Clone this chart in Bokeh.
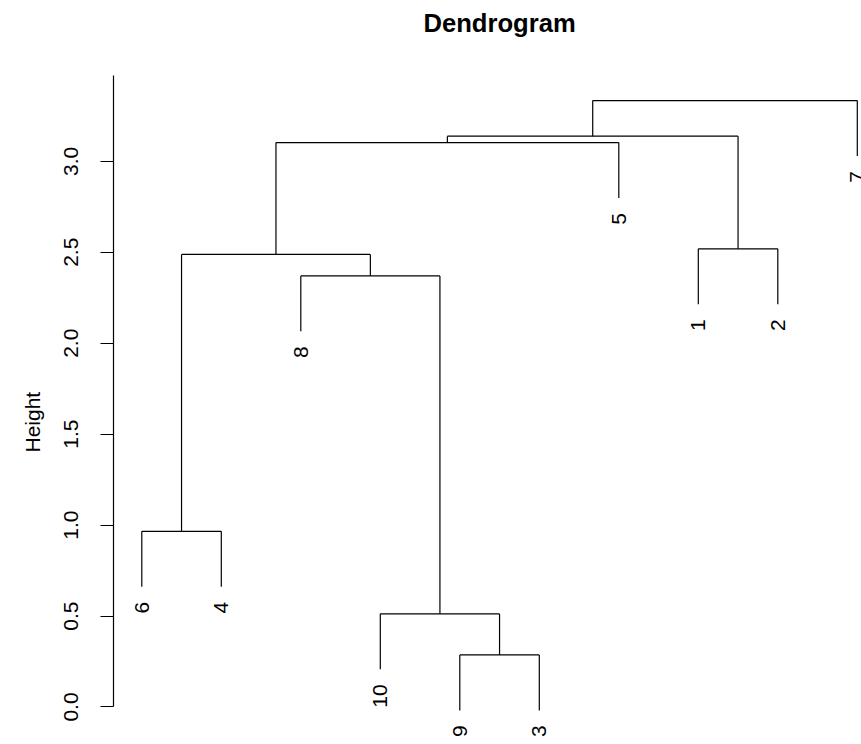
import math
from bokeh.plotting import figure
from bokeh.models import Range1d, FixedTicker, ColumnDataSource, Label, Title
from bokeh.core.properties import value
from bokeh.embed import file_html
from bokeh.resources import INLINE

# ---- data (hclust-style merge table, R convention: negative = leaf id) ----
leaf_labels = ["1", "2", "3", "4", "5", "6", "7", "8", "9", "10"]
leaf_order = [6, 4, 8, 10, 9, 3, 5, 1, 2, 7]
merge_left = [-9, -10, -6, -8, 3, -1, 5, 7, 8]
merge_right = [-3, 1, -4, 2, 4, -2, -5, 6, -7]
merge_height = [0.286, 0.512, 0.966, 2.370, 2.488, 2.519, 3.103, 3.138, 3.334]
hang_fraction = 0.1
tick_values = [0.0, 0.5, 1.0, 1.5, 2.0, 2.5, 3.0]
tick_labels = ["0.0", "0.5", "1.0", "1.5", "2.0", "2.5", "3.0"]
title_text = "Dendrogram"
y_label = "Height"

FONT = "Liberation Sans"

# ---- layout of the tree ----
hang = hang_fraction * (max(merge_height) - min(merge_height))
leaf_pos = {leaf: i + 1 for i, leaf in enumerate(leaf_order)}
cluster_x = {}


def node_x(n):
    return leaf_pos[-n] if n < 0 else cluster_x[n]


for k, (a, b) in enumerate(zip(merge_left, merge_right), start=1):
    cluster_x[k] = (node_x(a) + node_x(b)) / 2.0

x0s, y0s, x1s, y1s = [], [], [], []
leaf_x, leaf_y, leaf_txt = [], [], []
for k, (a, b) in enumerate(zip(merge_left, merge_right), start=1):
    h = merge_height[k - 1]
    xa, xb = node_x(a), node_x(b)
    x0s.append(xa); x1s.append(xb); y0s.append(h); y1s.append(h)
    for child, xc in ((a, xa), (b, xb)):
        if child < 0:
            bottom = h - hang
            leaf_x.append(xc); leaf_y.append(bottom)
            leaf_txt.append(leaf_labels[-child - 1])
        else:
            bottom = merge_height[child - 1]
        x0s.append(xc); x1s.append(xc); y0s.append(bottom); y1s.append(h)

seg_src = ColumnDataSource(dict(x0=x0s, y0=y0s, x1=x1s, y1=y1s))
lab_src = ColumnDataSource(dict(x=leaf_x, y=leaf_y, t=leaf_txt))

Y_TOP = 3.4717  # top of R's plot region (end of the axis line)

# ---- figure ----
p = figure(width=861, height=744, output_backend="svg", toolbar_location=None,
           title_location=None,
           x_range=Range1d(0.6440, 10.0528), y_range=Range1d(-0.2062, 3.884),
           min_border_left=113, min_border_top=0, min_border_bottom=0,
           min_border_right=0)
p.outline_line_color = None
p.grid.visible = False
p.xaxis.visible = False
p.background_fill_color = "white"
p.border_fill_color = "white"

p.segment("x0", "y0", "x1", "y1", source=seg_src, line_color="black",
          line_width=1.2)
p.text("x", "y", text="t", source=lab_src, angle=math.pi / 2,
       text_align="right", text_baseline="middle", y_offset=15,
       text_font=value(FONT), text_font_size="21px", text_color="black")

ax = p.yaxis[0]
ax.ticker = FixedTicker(ticks=tick_values)
ax.major_label_overrides = {v: s for v, s in zip(tick_values, tick_labels)}
ax.bounds = (0, Y_TOP)
ax.major_label_text_font = FONT
ax.major_label_text_font_size = "21px"
ax.major_label_text_color = "black"
ax.major_label_orientation = "vertical"
ax.major_label_standoff = 22
ax.major_tick_out = 13
ax.major_tick_in = 0
ax.minor_tick_line_color = None
ax.axis_line_color = "black"
ax.major_tick_line_color = "black"
ax.axis_line_width = 1.2
ax.major_tick_line_width = 1.2

# y-axis title on the left side, placed like R's ylab
p.add_layout(Title(text=y_label, align="left", offset=292, standoff=36,
                   text_font=FONT, text_font_size="21px",
                   text_font_style="normal", text_color="black"), "left")

# main title, centred over the leaf range like R's plot title
title_x = sum(leaf_pos.values()) / len(leaf_pos)
p.add_layout(Label(x=title_x, y=722, x_units="data", y_units="screen",
                   text=title_text, text_align="center",
                   text_baseline="alphabetic", text_font=FONT,
                   text_font_size="25.6px", text_font_style="bold",
                   text_color="black"))

open("out.html", "w").write(file_html(p, INLINE))
